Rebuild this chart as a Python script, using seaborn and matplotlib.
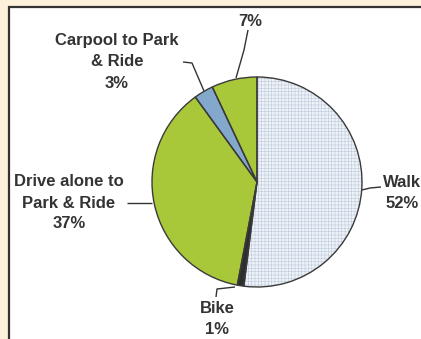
import matplotlib
matplotlib.use("Agg")
import matplotlib.pyplot as plt
import seaborn as sns
from matplotlib.patches import Rectangle

# data
modes = ["Walk", "Bike", "Drive alone to\nPark & Ride", "Carpool to Park\n& Ride", ""]
shares = [52, 1, 37, 3, 7]
colors = ["#eef2f7", "#2e2e2e", "#a8c83a", "#84a8cb", "#a8c83a"]

sns.set_theme(style="white")
plt.rcParams["font.family"] = ["Liberation Sans", "DejaVu Sans"]
plt.rcParams["hatch.linewidth"] = 0.4

W, H = 421, 339
fig = plt.figure(figsize=(W / 100, H / 100), dpi=100)
fig.patch.set_facecolor("#fdf1dc")

# white panel with border (runs past the right and bottom edges)
fig.patches.append(Rectangle((9 / W, -0.1), 1.2, (H - 6) / H + 0.1 - 0.003,
                             transform=fig.transFigure, facecolor="white",
                             edgecolor="#333333", lw=1.6, zorder=-5))

ax = fig.add_axes([0, 0, 1, 1], zorder=2)
ax.patch.set_alpha(0)

def py(y):
    return H - y

cx, cy, r = 257, py(182), 105

# fill + fine grid hatch on the walk slice
wedges, _ = ax.pie(shares, colors=colors, startangle=90, counterclock=False,
                   center=(cx, cy), radius=r, frame=True,
                   wedgeprops=dict(linewidth=0))
wedges[0].set_hatch("+++++")
wedges[0].set_edgecolor("#bccbdd")
# outlines
ax.pie(shares, colors=["none"] * len(shares), startangle=90, counterclock=False,
       center=(cx, cy), radius=r, frame=True,
       wedgeprops=dict(linewidth=1.0, edgecolor="#3a3a3a", fill=False))
ax.set_xlim(0, W)
ax.set_ylim(0, H)
ax.set_aspect("equal")
ax.axis("off")

tkw = dict(fontsize=12, fontweight="bold", color="#333333", ha="center",
           va="center", linespacing=1.5, multialignment="center")
ax.text(250, py(22), f"{shares[4]}%", **tkw)
ax.text(117, py(62), f"{modes[3]}\n{shares[3]}%", **tkw)
ax.text(69, py(203), f"{modes[2]}\n{shares[2]}%", **tkw)
ax.text(383, py(193), f"{modes[0]}\n{shares[0]}%", **{**tkw, "ha": "left"})
ax.text(217, py(319), f"{modes[1]}\n{shares[1]}%", **tkw)

lkw = dict(color="#333333", lw=1.0, solid_capstyle="butt")
ax.plot([248, 244, 236], [py(30), py(50), py(78)], **lkw)
ax.plot([183, 192, 204], [py(62), py(63), py(91)], **lkw)
ax.plot([127, 152], [py(203), py(203)], **lkw)
ax.plot([362, 370, 381], [py(190), py(188), py(187)], **lkw)
ax.plot([216, 217, 235], [py(297), py(289), py(287)], **lkw)

fig.savefig("out.png", dpi=100, facecolor=fig.get_facecolor())
